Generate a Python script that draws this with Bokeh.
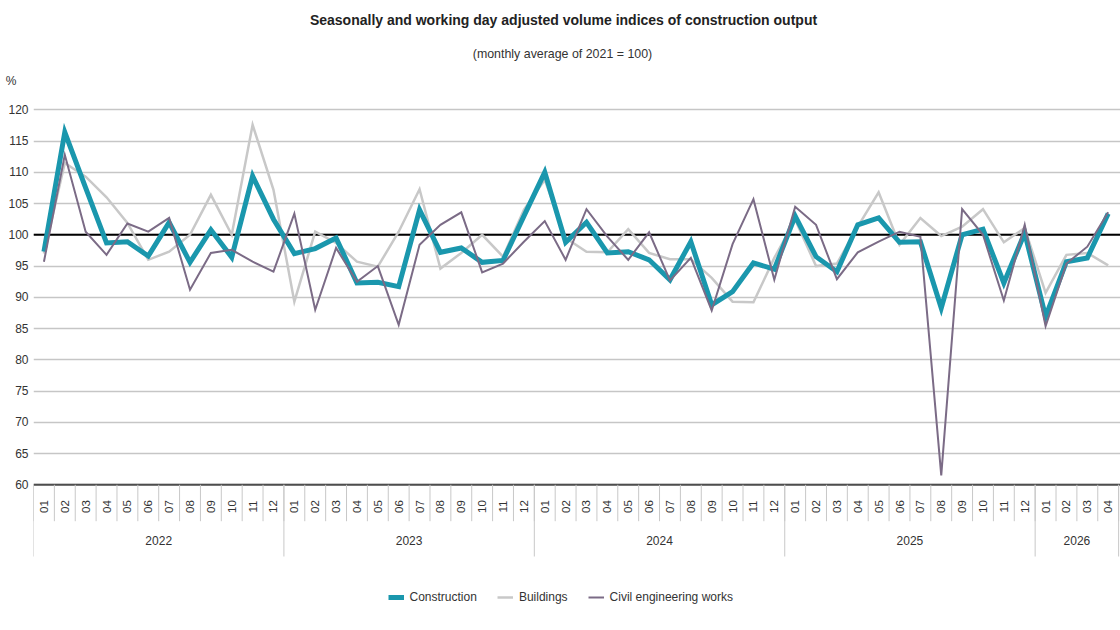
import numpy as np
from bokeh.plotting import figure
from bokeh.models import Range1d, FixedTicker, Legend, LegendItem, Label
from bokeh.embed import file_html
from bokeh.resources import INLINE
from bokeh.core.properties import value

# ---- data: volume indices, monthly average of 2021 = 100 ----
years = ["2022", "2023", "2024", "2025", "2026"]
months_per_year = [12, 12, 12, 12, 4]
month_labels = [
    "01", "02", "03", "04", "05", "06", "07", "08", "09", "10", "11", "12",
    "01", "02", "03", "04", "05", "06", "07", "08", "09", "10", "11", "12",
    "01", "02", "03", "04", "05", "06", "07", "08", "09", "10", "11", "12",
    "01", "02", "03", "04", "05", "06", "07", "08", "09", "10", "11", "12",
    "01", "02", "03", "04",
]

construction = [
    97.3, 116.4, 107.5, 98.7, 98.9, 96.6, 102.0, 95.6, 100.8, 96.4, 109.4, 102.5,
    97.0, 97.8, 99.5, 92.3, 92.4, 91.7, 104.0, 97.2, 97.9, 95.6, 95.9, 103.0,
    110.0, 98.8, 102.0, 97.1, 97.3, 96.0, 92.8, 98.9, 88.8, 90.9, 95.5, 94.5,
    103.0, 96.5, 94.1, 101.6, 102.7, 98.8, 98.9, 88.3, 100.0, 100.9, 92.3, 100.3,
    86.9, 95.7, 96.3, 103.4,
]
buildings = [
    97.0, 111.5, 109.3, 106.0, 101.9, 96.0, 97.3, 100.0, 106.4, 100.0, 117.6, 107.2,
    89.3, 100.5, 98.7, 95.7, 94.9, 100.5, 107.3, 94.6, 97.1, 100.0, 96.5, 104.0,
    108.8, 99.5, 97.3, 97.2, 100.9, 97.1, 96.1, 96.1, 93.1, 89.3, 89.2, 96.3,
    102.4, 95.0, 95.4, 101.3, 106.8, 98.4, 102.7, 99.8, 101.3, 104.1, 98.8, 101.1,
    90.7, 96.8, 97.1, 95.1,
]
civil = [
    95.7, 112.8, 100.5, 96.8, 101.8, 100.5, 102.7, 91.2, 97.1, 97.6, 95.7, 94.1,
    103.4, 88.0, 97.9, 92.5, 95.0, 85.6, 98.4, 101.6, 103.6, 94.0, 95.4, 98.9,
    102.2, 96.0, 104.1, 99.7, 96.0, 100.4, 92.7, 96.3, 87.9, 98.5, 105.7, 92.8,
    104.5, 101.6, 92.9, 97.2, 98.9, 100.5, 99.7, 61.5, 104.1, 100.0, 89.5, 101.6,
    85.4, 95.4, 98.1, 103.6,
]
y_ticks = [60, 65, 70, 75, 80, 85, 90, 95, 100, 105, 110, 115, 120]

# ---- styling ----
FONT = "Liberation Sans"
TEAL = "#1a97ad"
LIGHT = "#c8c8c8"
PURPLE = "#7b6b86"
TEXT = "#333333"
GRID = "#c6c6c6"

W, H = 1120, 630
Y_BOTTOM, Y_TOP = 36.69, 137.49
PX_PER_UNIT = H / (Y_TOP - Y_BOTTOM)
X_START, X_END = -0.5, 51.59
BASE = y_ticks[0]
FRAME_LEFT = 33


def below_base(px):
    """Data y for a point px pixels below the 60 baseline."""
    return BASE - px / PX_PER_UNIT


def from_top(px):
    """Data y for a point px pixels below the top edge."""
    return Y_TOP - px / PX_PER_UNIT


x = list(range(len(month_labels)))

p = figure(
    width=W, height=H, output_backend="svg", toolbar_location=None,
    x_range=Range1d(X_START, X_END), y_range=Range1d(Y_BOTTOM, Y_TOP),
    x_axis_location=None, y_axis_location="left",
    min_border_left=FRAME_LEFT, min_border_right=0, min_border_top=0, min_border_bottom=0,
    outline_line_color=None, background_fill_color="white",
)
p.xgrid.visible = False

# y axis: numeric ticks plus the unit sign above the top tick
unit_pos = round(from_top(80), 2)
ax = p.yaxis[0]
ax.ticker = FixedTicker(ticks=y_ticks + [unit_pos])
ax.major_label_overrides = {unit_pos: "%\u2002\u2002"}
ax.axis_line_color = None
ax.major_tick_line_color = None
ax.minor_tick_line_color = None
ax.major_tick_out = 0
ax.major_tick_in = 0
ax.minor_tick_out = 0
ax.minor_tick_in = 0
ax.major_label_standoff = 5
ax.major_label_text_font = FONT
ax.major_label_text_font_size = "12px"
ax.major_label_text_color = TEXT

p.ygrid.ticker = FixedTicker(ticks=y_ticks)
p.ygrid.grid_line_color = GRID
p.ygrid.grid_line_width = 1.5

# reference line at 100 and the baseline at 60
p.line([X_START, X_END], [100, 100], color="black", line_width=2)
p.line([X_START, X_END], [BASE, BASE], color="#4d4d4d", line_width=2)

# series
r_b = p.line(x, buildings, color=LIGHT, line_width=2.5, line_join="miter")
r_c = p.line(x, construction, color=TEAL, line_width=5, line_join="miter")
r_v = p.line(x, civil, color=PURPLE, line_width=2, line_join="miter")

# category axis: month cells and year groups
n = len(month_labels)
cell_edges = [i - 0.5 for i in range(n + 1)]
p.segment(x0=cell_edges, y0=[BASE] * len(cell_edges), x1=cell_edges,
          y1=[below_base(36.4)] * len(cell_edges), color=LIGHT, line_width=1)

year_edges, year_centers, start = [], [], 0
for cnt in months_per_year:
    year_edges.append(start - 0.5)
    year_centers.append(start + cnt / 2 - 0.5)
    start += cnt
year_edges.append(start - 0.5)
p.segment(x0=year_edges, y0=[BASE] * len(year_edges), x1=year_edges,
          y1=[below_base(71.7)] * len(year_edges), color=LIGHT, line_width=1)

p.text(x=x, y=[below_base(21.7)] * n, text=month_labels, angle=np.pi / 2,
       text_align="center", text_baseline="middle", text_font=value(FONT),
       text_font_size="11.5px", text_color=TEXT)
p.text(x=year_centers, y=[below_base(55.7)] * len(years), text=years,
       text_align="center", text_baseline="middle", text_font=value(FONT),
       text_font_size="12px", text_color=TEXT)

# titles
p.add_layout(Label(x=563 - FRAME_LEFT, y=H - 19, x_units="screen", y_units="screen",
                   text="Seasonally and working day adjusted volume indices of construction output",
                   text_align="center", text_baseline="middle", text_font=FONT,
                   text_font_size="14px", text_font_style="bold", text_color="#222222"))
p.add_layout(Label(x=562 - FRAME_LEFT, y=H - 53, x_units="screen", y_units="screen",
                   text="(monthly average of 2021 = 100)",
                   text_align="center", text_baseline="middle", text_font=FONT,
                   text_font_size="12.4px", text_color=TEXT))

legend = Legend(
    items=[LegendItem(label="Construction", renderers=[r_c]),
           LegendItem(label="Buildings", renderers=[r_b]),
           LegendItem(label="Civil engineering works", renderers=[r_v])],
    orientation="horizontal", location=(387.5 - FRAME_LEFT, 23),
    padding=0, margin=0, spacing=20, glyph_width=16, label_standoff=6,
    label_text_font=FONT, label_text_font_size="12px", label_text_color=TEXT,
    border_line_color=None, background_fill_alpha=0,
)
p.add_layout(legend)

open("out.html", "w").write(file_html(p, INLINE))
